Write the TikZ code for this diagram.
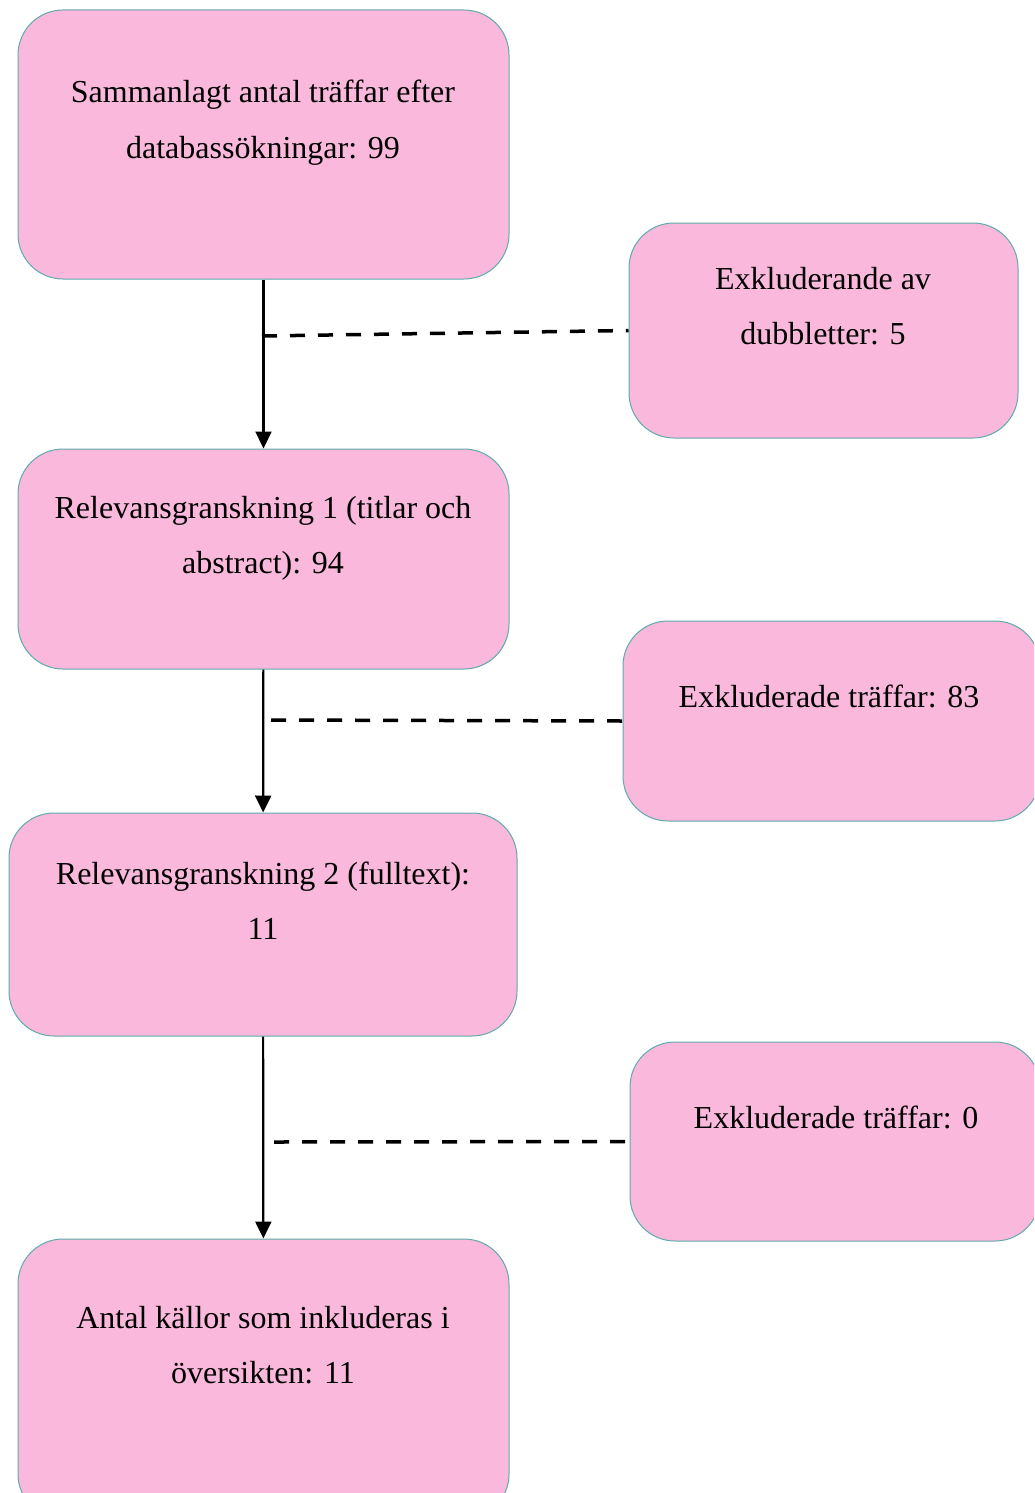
\documentclass[tikz,border=0pt]{standalone}
\usepackage{fontspec}
\setmainfont{Liberation Serif}
\usetikzlibrary{arrows.meta}
\definecolor{boxpink}{RGB}{250,185,220}
\definecolor{boxteal}{RGB}{95,170,170}
\begin{document}
\begin{tikzpicture}[x=1pt, y=-1pt,
				    stage/.style={draw=boxteal, fill=boxpink, rounded corners=45pt,
				    			  line width=1pt, inner sep=0pt},
				    caption/.style={anchor=base, align=center, text=black, inner sep=0pt,
				    			  font=\fontsize{32}{55}\selectfont},
				    flow/.style={line width=2.2pt, -{Triangle[length=17pt,width=16pt]}},
				    skip/.style={line width=3.5pt, dash pattern=on 15pt off 13pt}]
	\useasboundingbox (0,0) rectangle (1034,1493);
	\clip (0,0) rectangle (1034,1493);
	\node[stage, minimum width=491pt, minimum height=269pt] (b1) at (263.5, 144.5) {};
	\node[stage, minimum width=389pt, minimum height=215pt] (e1) at (823.5, 330.5) {};
	\node[stage, minimum width=491pt, minimum height=220pt] (b2) at (263.5, 559) {};
	\node[stage, minimum width=417pt, minimum height=200pt] (e2) at (831.5, 721) {};
	\node[stage, minimum width=508pt, minimum height=223pt] (b3) at (263, 924.5) {};
	\node[stage, minimum width=410pt, minimum height=199pt] (e3) at (835, 1141.5) {};
	\node[stage, minimum width=491pt, minimum height=280pt] (b4) at (263.5, 1379) {};

	% base anchor sits on the last line
	\node[caption] (t1) at (263, 158) {Sammanlagt antal träffar efter\\databassökningar: 99};
	\node[caption] (t2) at (823, 344) {Exkluderande av\\dubbletter: 5};
	\node[caption] (t3) at (263, 573) {Relevansgranskning 1 (titlar och\\abstract): 94};
	\node[caption] (t4) at (829, 707) {Exkluderade träffar: 83};
	\node[caption] (t5) at (263, 939) {Relevansgranskning 2 (fulltext):\\11};
	\node[caption] (t6) at (836, 1128) {Exkluderade träffar: 0};
	\node[caption] (t7) at (263, 1383) {Antal källor som inkluderas i\\översikten: 11};

	\coordinate (d1) at (262, 336);
	\coordinate (d2) at (271, 720);
	\coordinate (d3) at (274, 1142);

	\draw[flow] 	(b1)  --   (b2);
	\draw[flow] 	(b2)  --   (b3);
	\draw[flow] 	(b3)  --   (b4);
	\draw[skip] 	(d1)  --   (e1.west);
	\draw[skip] 	(d2)  --   (e2.west);
	\draw[skip] 	(d3)  --   (e3.west);

\end{tikzpicture}
\end{document}
